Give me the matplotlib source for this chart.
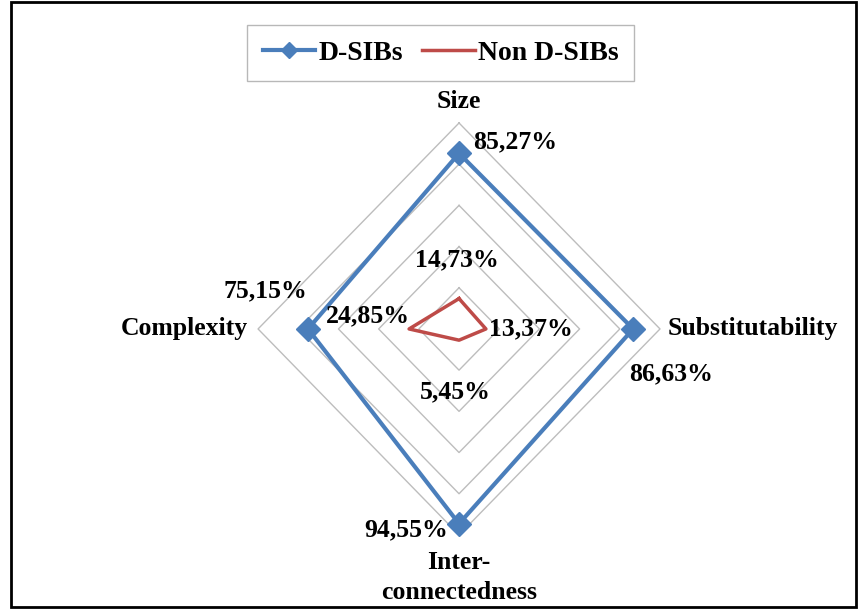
import matplotlib
matplotlib.use("Agg")
import matplotlib.pyplot as plt
import numpy as np
from matplotlib.patches import Rectangle

# radar categories, clockwise from the top
categories = ["Size", "Substitutability", "Inter-\nconnectedness", "Complexity"]
angles_deg = [90, 0, 270, 180]
dsibs = [85.27, 86.63, 94.55, 75.15]
non_dsibs = [14.73, 13.37, 5.45, 24.85]
ring_levels = [20, 40, 60, 80, 100]

BLUE = "#4a7ebb"
RED = "#be4b48"
GRID = "#bdbdbd"
FONT = "Liberation Serif"

plt.rcParams["font.family"] = FONT
plt.rcParams["font.weight"] = "bold"


def to_xy(values):
    ang = np.radians(angles_deg)
    v = np.asarray(values, dtype=float)
    return v * np.cos(ang), v * np.sin(ang)


def fmt(v):
    return f"{v:.2f}".replace(".", ",") + "%"


fig = plt.figure(figsize=(8.62, 6.13), dpi=100)
ax = fig.add_axes([0, 0, 1, 1])
ax.set_xlim(-228.4, 200.5)
ax.set_ylim(-137.9, 159.7)
ax.axis("off")

# grid diamonds
for lvl in ring_levels:
    gx, gy = to_xy([lvl] * len(categories))
    ax.plot(np.append(gx, gx[0]), np.append(gy, gy[0]), color=GRID, lw=1.0, zorder=1)

bx, by = to_xy(dsibs)
rx, ry = to_xy(non_dsibs)
ax.plot(np.append(bx, bx[0]), np.append(by, by[0]), color=BLUE, lw=3.0,
        marker="D", markersize=12, markevery=[0, 1, 2, 3], zorder=3, label="D-SIBs")
ax.plot(np.append(rx, rx[0]), np.append(ry, ry[0]), color=RED, lw=2.5,
        zorder=3, label="Non D-SIBs")

# category labels (pixel offsets from the outer ring vertex)
ox, oy = to_xy([100] * len(categories))
cat_style = [((0, 21), "center", "center"),
             ((8, 0), "left", "center"),
             ((0, -16), "center", "top"),
             ((-10, 0), "right", "center")]
for name, x, y, (off, ha, va) in zip(categories, ox, oy, cat_style):
    ax.annotate(name, (x, y), xytext=off, textcoords="offset pixels",
                ha=ha, va=va, fontsize=18.5, fontweight="bold", linespacing=1.4)

# data labels
blue_off = [((14, 11), "left"), ((38, -45), "center"), ((-11, -6), "right"), ((-1, 38), "right")]
red_off = [((-2, 39), "center"), ((3, 0), "left"), ((-4, -52), "center"), ((1, 13), "right")]
for vals, xs, ys, offs in ((dsibs, bx, by, blue_off), (non_dsibs, rx, ry, red_off)):
    for v, x, y, (off, ha) in zip(vals, xs, ys, offs):
        ax.annotate(fmt(v), (x, y), xytext=off, textcoords="offset pixels",
                    ha=ha, va="center", fontsize=18.5, fontweight="bold")

leg = fig.legend(loc="upper center", bbox_to_anchor=(0.511, 0.959), ncol=2,
                 fontsize=20, frameon=True, fancybox=False, handlelength=1.9,
                 handletextpad=0.1, columnspacing=0.7, borderpad=0.55,
                 borderaxespad=0.0)
leg.get_frame().set_edgecolor("#a6a6a6")
leg.get_frame().set_linewidth(1.0)
leg.legend_handles[0].set_markersize(8)

fig.patches.append(Rectangle((11 / 862, 1 - 607 / 613), (856 - 11) / 862, (607 - 2) / 613,
                             transform=fig.transFigure, fill=False,
                             edgecolor="black", lw=2.0))

fig.savefig("out.png", dpi=100)
